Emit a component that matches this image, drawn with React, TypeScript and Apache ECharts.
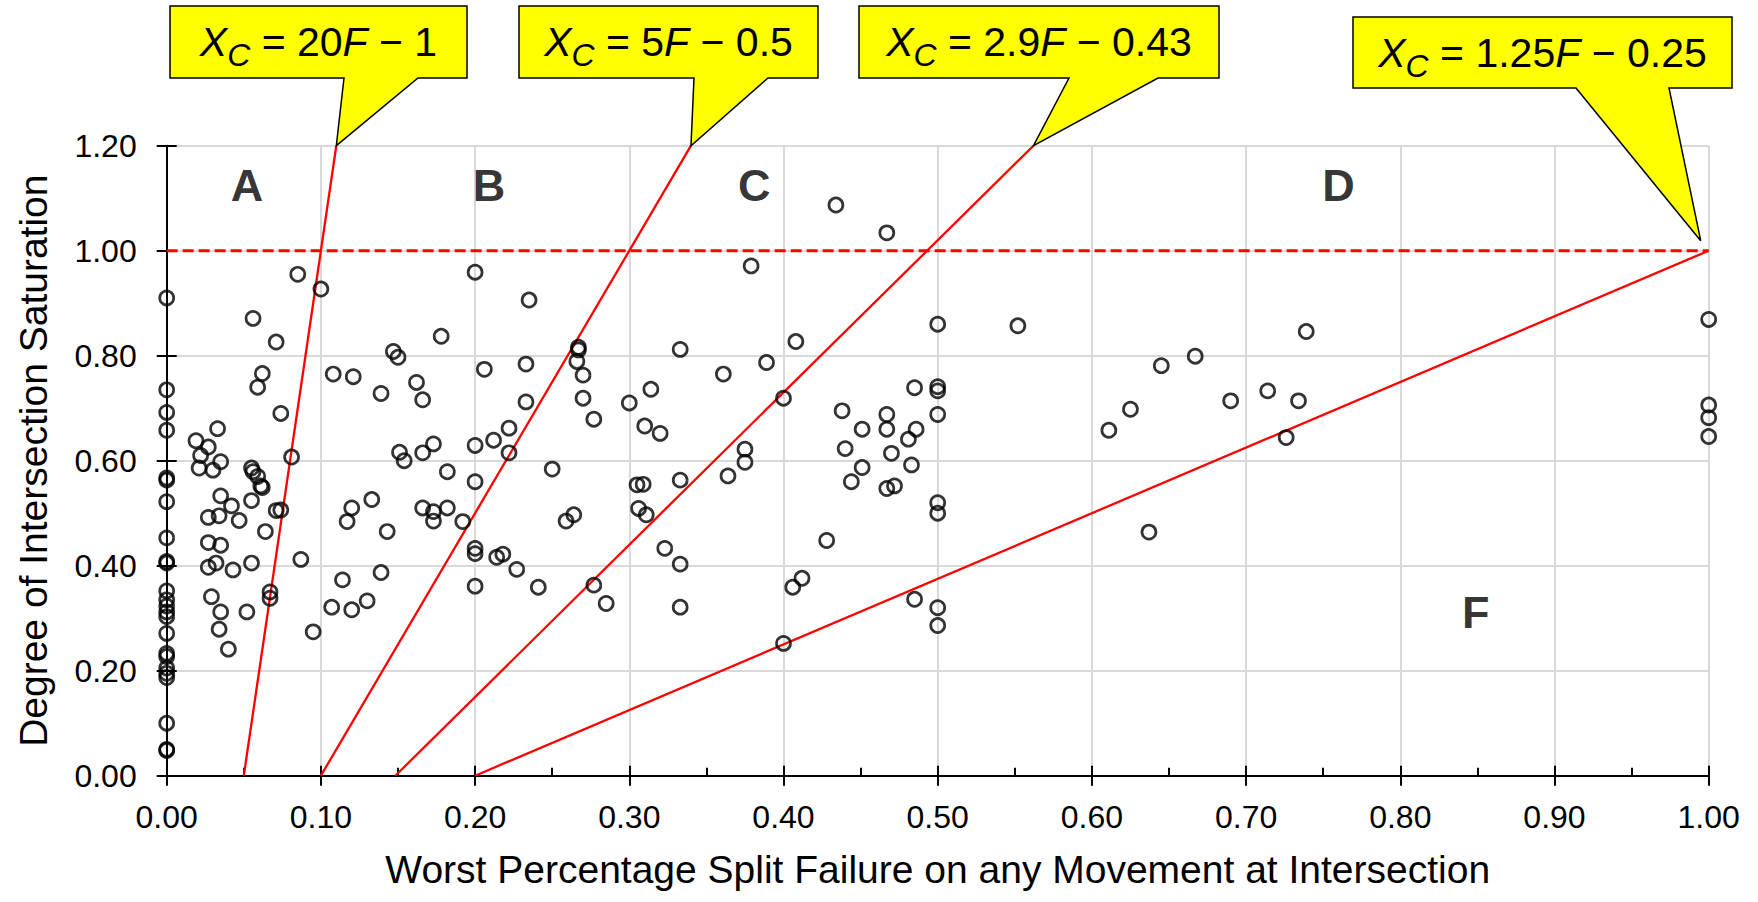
import React, { useEffect, useRef } from "react";
import * as echarts from "echarts";

// ---------- DATA ----------
const xTickLabels = ["0.00", "0.10", "0.20", "0.30", "0.40", "0.50", "0.60", "0.70", "0.80", "0.90", "1.00"];
const yTickLabels = ["0.00", "0.20", "0.40", "0.60", "0.80", "1.00", "1.20"];

const pointsAtZero: number[][] = [
  [0, 0.91], [0, 0.735], [0, 0.692], [0, 0.658], [0, 0.567], [0, 0.563], [0, 0.522], [0, 0.453],
  [0, 0.408], [0, 0.405], [0, 0.352], [0, 0.335], [0, 0.323], [0, 0.312], [0, 0.303], [0, 0.271],
  [0, 0.233], [0, 0.227], [0, 0.205], [0, 0.195], [0, 0.187], [0, 0.1], [0, 0.05], [0, 0.048],
];

const pointsRegionA: number[][] = [
  [0.085, 0.955], [0.1, 0.927], [0.056, 0.871], [0.071, 0.826], [0.062, 0.766], [0.059, 0.74],
  [0.074, 0.69], [0.033, 0.661], [0.019, 0.638], [0.027, 0.626], [0.022, 0.61], [0.035, 0.598],
  [0.021, 0.586], [0.03, 0.582], [0.081, 0.607], [0.055, 0.586], [0.056, 0.579], [0.059, 0.57],
  [0.061, 0.552], [0.062, 0.549], [0.035, 0.533], [0.042, 0.514], [0.055, 0.524], [0.027, 0.492],
  [0.034, 0.495], [0.047, 0.486], [0.071, 0.505], [0.074, 0.506], [0.064, 0.465], [0.027, 0.444],
  [0.035, 0.439], [0.027, 0.397], [0.032, 0.405], [0.043, 0.392], [0.055, 0.405], [0.087, 0.412],
  [0.029, 0.341], [0.035, 0.312], [0.052, 0.312], [0.067, 0.35], [0.067, 0.338], [0.034, 0.279],
  [0.04, 0.241], [0.095, 0.274],
];

const pointsRegionB: number[][] = [
  [0.108, 0.765], [0.121, 0.76], [0.147, 0.808], [0.15, 0.797], [0.178, 0.837], [0.2, 0.959],
  [0.206, 0.774], [0.139, 0.728], [0.162, 0.749], [0.166, 0.716], [0.212, 0.639], [0.2, 0.629],
  [0.173, 0.632], [0.166, 0.615], [0.151, 0.616], [0.154, 0.6], [0.182, 0.579], [0.2, 0.56],
  [0.133, 0.526], [0.12, 0.51], [0.117, 0.484], [0.143, 0.465], [0.166, 0.51], [0.173, 0.503],
  [0.173, 0.485], [0.182, 0.51], [0.192, 0.484], [0.2, 0.433], [0.2, 0.423], [0.214, 0.416],
  [0.218, 0.422], [0.2, 0.361], [0.114, 0.373], [0.139, 0.387], [0.107, 0.321], [0.12, 0.316],
  [0.13, 0.333],
];

const pointsRegionC: number[][] = [
  [0.222, 0.662], [0.222, 0.615], [0.227, 0.393], [0.241, 0.359], [0.235, 0.906], [0.233, 0.784],
  [0.233, 0.712], [0.25, 0.584], [0.259, 0.485], [0.264, 0.497], [0.267, 0.816], [0.267, 0.811],
  [0.266, 0.789], [0.27, 0.763], [0.27, 0.719], [0.277, 0.679], [0.277, 0.363], [0.285, 0.328],
  [0.3, 0.71], [0.314, 0.736], [0.31, 0.666], [0.32, 0.652], [0.305, 0.554], [0.309, 0.555],
  [0.306, 0.509], [0.311, 0.497], [0.323, 0.433], [0.333, 0.403], [0.333, 0.321], [0.333, 0.563],
  [0.333, 0.812], [0.361, 0.765], [0.364, 0.571], [0.375, 0.622], [0.375, 0.597], [0.379, 0.971],
  [0.389, 0.787], [0.4, 0.719], [0.408, 0.827], [0.4, 0.252], [0.406, 0.359], [0.412, 0.376],
  [0.428, 0.448],
];

const pointsRegionCD: number[][] = [
  [0.434, 1.087], [0.467, 1.034], [0.438, 0.695], [0.44, 0.623], [0.451, 0.66], [0.451, 0.587],
  [0.444, 0.56], [0.467, 0.688], [0.467, 0.66], [0.47, 0.614], [0.467, 0.547], [0.472, 0.552],
  [0.481, 0.641], [0.485, 0.739], [0.486, 0.66], [0.483, 0.592], [0.485, 0.336], [0.5, 0.86],
  [0.5, 0.741], [0.5, 0.733], [0.5, 0.688], [0.5, 0.52], [0.5, 0.5], [0.5, 0.32], [0.5, 0.286],
];

const pointsRegionD: number[][] = [
  [0.552, 0.857], [0.611, 0.658], [0.625, 0.698], [0.637, 0.464], [0.645, 0.781], [0.667, 0.799],
  [0.69, 0.714], [0.714, 0.733], [0.726, 0.644], [0.734, 0.714], [0.739, 0.846],
  [1.0, 0.869], [1.0, 0.706], [1.0, 0.682], [1.0, 0.646],
];

// Threshold lines (end points in data units)
const line20F: number[][] = [[0.05, 0], [0.11, 1.2]];
const line5F: number[][] = [[0.1, 0], [0.34, 1.2]];
const line29F: number[][] = [[0.1483, 0], [0.5621, 1.2]];
const line125F: number[][] = [[0.2, 0], [1.0, 1.0]];
const saturationLine: number[][] = [[0, 1.0], [1.0, 1.0]];

const regionNames = ["A", "B", "C", "D", "F"];
const regionPositions: number[][] = [[0.052, 1.125], [0.209, 1.125], [0.381, 1.125], [0.76, 1.125], [0.849, 0.31]];

const calloutCoefs = ["20", "5", "2.9", "1.25"];
const calloutConsts = ["1", "0.5", "0.43", "0.25"];

const xAxisTitle = "Worst Percentage Split Failure on any Movement at Intersection";
const yAxisTitle = "Degree of Intersection Saturation";

// ---------- LAYOUT ----------
const FONT = '"Liberation Sans", Arial, Helvetica, sans-serif';
const calloutBoxes = [
  { l: 170, r: 467, t: 6, b: 78, bl: 344, br: 418, dx: 0, dy: 0 },
  { l: 519, r: 818, t: 6, b: 78, bl: 694, br: 768, dx: 0, dy: 0 },
  { l: 859, r: 1219, t: 6, b: 78, bl: 1069, br: 1158, dx: 0, dy: 0 },
  { l: 1353, r: 1732, t: 17, b: 88, bl: 1576, br: 1669, dx: -8, dy: -10 },
];

export default function App() {
  const ref = useRef<HTMLDivElement>(null);

  useEffect(() => {
    if (!ref.current) return;
    const chart = echarts.init(ref.current, undefined, { renderer: "svg" });

    const allPoints = [
      ...pointsAtZero, ...pointsRegionA, ...pointsRegionB,
      ...pointsRegionC, ...pointsRegionCD, ...pointsRegionD,
    ];
    const lines = [line20F, line5F, line29F, line125F];

    const tickStyle = { color: "#000", width: 2 };
    const option: any = {
      animation: false,
      backgroundColor: "#fff",
      grid: { left: 166.7, right: 49.3, top: 145.7, bottom: 126.3 },
      xAxis: [
        {
          type: "value", min: 0, max: 1, interval: 0.1, position: "bottom",
          axisLine: { show: true, onZero: false, lineStyle: { color: "#000", width: 2 } },
          axisTick: { show: true, length: 10, lineStyle: tickStyle },
          axisLabel: {
            color: "#000", fontSize: 32, fontFamily: FONT, margin: 25,
            formatter: (v: number) => xTickLabels[Math.round(v * 10)] ?? "",
          },
          splitLine: { show: true, lineStyle: { color: "#d9d9d9", width: 2 } },
          name: xAxisTitle, nameLocation: "middle", nameGap: 74.5,
          nameTextStyle: { color: "#000", fontSize: 39, fontFamily: FONT },
        },
        {
          type: "value", min: 0, max: 1, interval: 0.1, position: "bottom", offset: 0,
          axisLine: { show: false, onZero: false },
          axisTick: { show: true, inside: true, length: 10, lineStyle: tickStyle },
          minorTick: { show: true, splitNumber: 2, length: 8, lineStyle: tickStyle },
          axisLabel: { show: false },
          splitLine: { show: false },
        },
      ],
      yAxis: [
        {
          type: "value", min: 0, max: 1.2, interval: 0.2, position: "left",
          axisLine: { show: true, onZero: false, lineStyle: { color: "#000", width: 2 } },
          axisTick: { show: true, length: 10, lineStyle: tickStyle },
          axisLabel: {
            color: "#000", fontSize: 32, fontFamily: FONT, margin: 30,
            formatter: (v: number) => yTickLabels[Math.round(v * 5)] ?? "",
          },
          splitLine: { show: true, lineStyle: { color: "#d9d9d9", width: 2 } },
          name: yAxisTitle, nameLocation: "middle", nameGap: 113.5,
          nameTextStyle: { color: "#000", fontSize: 39, fontFamily: FONT },
        },
        {
          type: "value", min: 0, max: 1.2, interval: 0.2, position: "left", offset: 0,
          axisLine: { show: false, onZero: false },
          axisTick: { show: true, inside: true, length: 10, lineStyle: tickStyle },
          axisLabel: { show: false },
          splitLine: { show: false },
        },
      ],
      series: [
        ...lines.map((pts) => ({
          type: "line", data: pts, symbol: "none", silent: true, z: 3,
          lineStyle: { color: "#ff0000", width: 2.3 },
        })),
        {
          type: "line", data: saturationLine, symbol: "none", silent: true, z: 3,
          lineStyle: { color: "#ff0000", width: 3, type: [11, 5] },
        },
        {
          type: "scatter", data: allPoints, symbol: "circle", symbolSize: 14, z: 4,
          itemStyle: { color: "rgba(0,0,0,0)", borderColor: "#000", borderWidth: 2.7 },
        },
        {
          type: "scatter", symbolSize: 1, z: 5, silent: true,
          itemStyle: { color: "rgba(0,0,0,0)" },
          data: regionNames.map((n, i) => ({ name: n, value: regionPositions[i] })),
          label: {
            show: true, position: "inside", formatter: "{b}", color: "#000",
            fontSize: 45, fontWeight: "bold", fontFamily: FONT,
          },
        },
      ],
    };
    chart.setOption(option);

    const graphics: any[] = [];
    calloutBoxes.forEach((b, i) => {
      const end = lines[i][1];
      const p = chart.convertToPixel({ gridIndex: 0 }, end) as number[];
      const tip = [p[0] + b.dx, p[1] + b.dy];
      graphics.push({
        type: "polygon", z: 100,
        shape: { points: [[b.l, b.t], [b.r, b.t], [b.r, b.b], [b.br, b.b], tip, [b.bl, b.b], [b.l, b.b]] },
        style: { fill: "#ffff00", stroke: "#000", lineWidth: 1.5 },
      });
      const rich = {
        i: { fontFamily: FONT, fontSize: 41, fontStyle: "italic", fill: "#000" },
        s: { fontFamily: FONT, fontSize: 32, fontStyle: "italic", fill: "#000", padding: [26, 0, 0, 0] },
        n: { fontFamily: FONT, fontSize: 41, fill: "#000" },
      };
      graphics.push({
        type: "text", z: 101,
        x: (b.l + b.r) / 2, y: (b.t + b.b) / 2,
        style: {
          text: `{i|X}{s|C}{n| = ${calloutCoefs[i]}}{i|F}{n| − ${calloutConsts[i]}}`,
          rich, fill: "#000", fontFamily: FONT, fontSize: 41,
          align: "center", verticalAlign: "middle",
          textAlign: "center", textVerticalAlign: "middle",
        },
      });
    });
    chart.setOption({ graphic: graphics });

    return () => chart.dispose();
  }, []);

  return (
    <div
      ref={ref}
      style={{ position: "absolute", left: 0, top: 0, width: 1758, height: 902, background: "#fff" }}
    />
  );
}
